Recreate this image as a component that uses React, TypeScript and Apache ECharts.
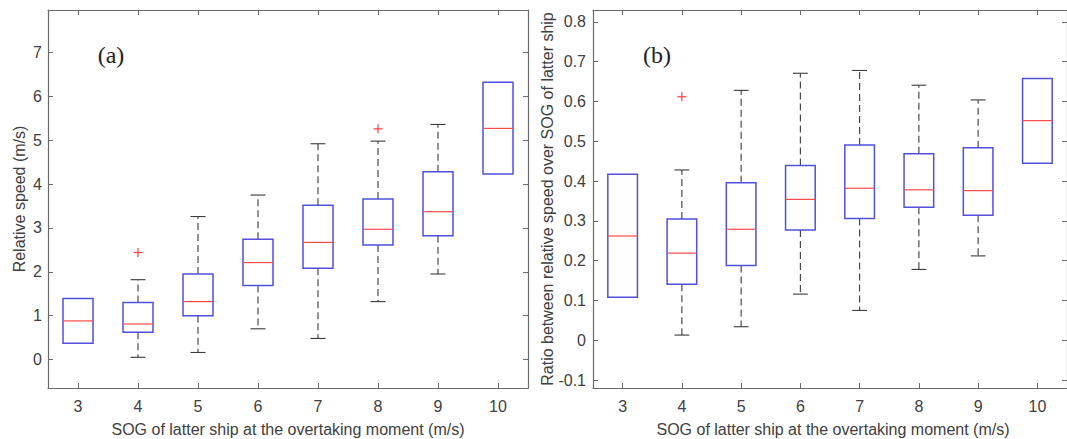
import React, { useEffect, useRef } from "react";
import * as echarts from "echarts";

// ---- data ----
const categories = [3, 4, 5, 6, 7, 8, 9, 10];

// (a) Relative speed (m/s)
const speedLow = [0.37, 0.05, 0.16, 0.70, 0.48, 1.32, 1.95, 4.23];
const speedQ1 = [0.37, 0.62, 1.00, 1.69, 2.08, 2.61, 2.82, 4.23];
const speedMedian = [0.88, 0.81, 1.32, 2.21, 2.67, 2.97, 3.37, 5.27];
const speedQ3 = [1.39, 1.30, 1.95, 2.74, 3.52, 3.66, 4.28, 6.32];
const speedHigh = [1.39, 1.82, 3.26, 3.75, 4.92, 4.98, 5.36, 6.32];
const speedOutliers = [[4, 2.44], [8, 5.26]];

// (b) Ratio between relative speed over SOG of latter ship
const ratioLow = [0.108, 0.013, 0.034, 0.116, 0.075, 0.178, 0.212, 0.445];
const ratioQ1 = [0.108, 0.141, 0.188, 0.277, 0.306, 0.334, 0.314, 0.445];
const ratioMedian = [0.262, 0.219, 0.279, 0.354, 0.382, 0.378, 0.376, 0.552];
const ratioQ3 = [0.417, 0.305, 0.396, 0.439, 0.491, 0.469, 0.484, 0.658];
const ratioHigh = [0.417, 0.428, 0.628, 0.671, 0.678, 0.641, 0.604, 0.658];
const ratioOutliers = [[4, 0.612]];

const speedTicks = [0, 1, 2, 3, 4, 5, 6, 7];
const ratioTicks = [-0.1, 0, 0.1, 0.2, 0.3, 0.4, 0.5, 0.6, 0.7, 0.8];

const xTitle = "SOG of latter ship at the overtaking moment (m/s)";
const yTitleA = "Relative speed (m/s)";
const yTitleB = "Ratio between relative speed over SOG of latter ship";

const FONT = "'Liberation Sans', Arial, Helvetica, sans-serif";
const FS = 16;
const TEXT = "#404040";
const FRAME = "#6a6a6a";
const BLUE = "#5050dc";
const RED = "#ff4a4a";
const WHISKER = "#3a3a3a";

function boxData(low: number[], q1: number[], med: number[], q3: number[], high: number[]) {
  return categories.map((c, i) => [c, low[i], q1[i], med[i], q3[i], high[i]]);
}

function renderBox(params: any, api: any) {
  const x = api.value(0);
  const low = api.value(1);
  const q1 = api.value(2);
  const med = api.value(3);
  const q3 = api.value(4);
  const high = api.value(5);
  const half = 0.25;
  const cap = 0.125;
  const tl = api.coord([x - half, q3]);
  const br = api.coord([x + half, q1]);
  const mL = api.coord([x - half, med]);
  const mR = api.coord([x + half, med]);
  const children: any[] = [];
  const dashStyle = { stroke: WHISKER, lineWidth: 1.1, lineDash: [7, 4] };
  const capStyle = { stroke: WHISKER, lineWidth: 1.1 };
  if (high > q3) {
    const a = api.coord([x, q3]);
    const b = api.coord([x, high]);
    const c1 = api.coord([x - cap, high]);
    const c2 = api.coord([x + cap, high]);
    children.push({ type: "line", shape: { x1: a[0], y1: a[1], x2: b[0], y2: b[1] }, style: dashStyle });
    children.push({ type: "line", shape: { x1: c1[0], y1: c1[1], x2: c2[0], y2: c2[1] }, style: capStyle });
  }
  if (low < q1) {
    const a = api.coord([x, q1]);
    const b = api.coord([x, low]);
    const c1 = api.coord([x - cap, low]);
    const c2 = api.coord([x + cap, low]);
    children.push({ type: "line", shape: { x1: a[0], y1: a[1], x2: b[0], y2: b[1] }, style: dashStyle });
    children.push({ type: "line", shape: { x1: c1[0], y1: c1[1], x2: c2[0], y2: c2[1] }, style: capStyle });
  }
  children.push({
    type: "rect",
    shape: { x: tl[0], y: tl[1], width: br[0] - tl[0], height: br[1] - tl[1] },
    style: { fill: "none", stroke: BLUE, lineWidth: 1.5 },
  });
  children.push({
    type: "line",
    shape: { x1: mL[0], y1: mL[1], x2: mR[0], y2: mR[1] },
    style: { stroke: RED, lineWidth: 1.2 },
  });
  return { type: "group", children };
}

function renderOutlier(params: any, api: any) {
  const p = api.coord([api.value(0), api.value(1)]);
  const s = 4.5;
  return {
    type: "group",
    children: [
      { type: "line", shape: { x1: p[0] - s, y1: p[1], x2: p[0] + s, y2: p[1] }, style: { stroke: RED, lineWidth: 1.3 } },
      { type: "line", shape: { x1: p[0], y1: p[1] - s, x2: p[0], y2: p[1] + s }, style: { stroke: RED, lineWidth: 1.3 } },
    ],
  };
}

function xAxes(gridIndex: number) {
  const common = {
    gridIndex,
    type: "value",
    min: 2.5,
    max: 10.5,
    splitLine: { show: false },
    axisLine: { show: true, onZero: false, lineStyle: { color: FRAME, width: 1.2 } },
    axisTick: { show: true, inside: true, length: 5, customValues: categories, lineStyle: { color: FRAME } },
  };
  return [
    {
      ...common,
      position: "bottom",
      axisLabel: { show: true, customValues: categories, margin: 10, color: TEXT, fontSize: FS, fontFamily: FONT },
    },
    { ...common, position: "top", axisLabel: { show: false } },
  ];
}

function yAxes(gridIndex: number, min: number, max: number, ticks: number[], margin: number) {
  const common = {
    gridIndex,
    type: "value",
    min,
    max,
    splitLine: { show: false },
    axisLine: { show: true, onZero: false, lineStyle: { color: FRAME, width: 1.2 } },
    axisTick: { show: true, inside: true, length: 5, customValues: ticks, lineStyle: { color: FRAME } },
  };
  return [
    {
      ...common,
      position: "left",
      axisLabel: {
        show: true,
        customValues: ticks,
        margin,
        color: TEXT,
        fontSize: FS,
        fontFamily: FONT,
        formatter: (v: number) => String(Math.round(v * 10) / 10),
      },
    },
    { ...common, position: "right", axisLabel: { show: false } },
  ];
}

export default function App() {
  const ref = useRef<HTMLDivElement>(null);
  useEffect(() => {
    if (!ref.current) return;
    const chart = echarts.init(ref.current, undefined, { renderer: "svg" });
    const titleStyle = (text: string) => ({
      text,
      fill: TEXT,
      font: `${FS}px ${FONT}`,
      align: "center",
      verticalAlign: "middle",
    });
    const option: any = {
      animation: false,
      backgroundColor: "#ffffff",
      grid: [
        { left: 48, top: 10, width: 480, height: 378 },
        { left: 593, top: 10, width: 481, height: 378 },
      ],
      xAxis: [...xAxes(0), ...xAxes(1)],
      yAxis: [
        ...yAxes(0, -0.65, 7.97, speedTicks, 6),
        ...yAxes(1, -0.12, 0.83, ratioTicks, 7),
      ],
      series: [
        {
          type: "custom",
          xAxisIndex: 0,
          yAxisIndex: 0,
          renderItem: renderBox,
          encode: { x: 0, y: [1, 2, 3, 4, 5] },
          data: boxData(speedLow, speedQ1, speedMedian, speedQ3, speedHigh),
          clip: false,
        },
        {
          type: "custom",
          xAxisIndex: 0,
          yAxisIndex: 0,
          renderItem: renderOutlier,
          encode: { x: 0, y: 1 },
          data: speedOutliers,
        },
        {
          type: "custom",
          xAxisIndex: 2,
          yAxisIndex: 2,
          renderItem: renderBox,
          encode: { x: 0, y: [1, 2, 3, 4, 5] },
          data: boxData(ratioLow, ratioQ1, ratioMedian, ratioQ3, ratioHigh),
          clip: false,
        },
        {
          type: "custom",
          xAxisIndex: 2,
          yAxisIndex: 2,
          renderItem: renderOutlier,
          encode: { x: 0, y: 1 },
          data: ratioOutliers,
        },
      ],
      graphic: [
        { type: "text", x: 288, y: 429, style: titleStyle(xTitle) },
        { type: "text", x: 833, y: 429, style: titleStyle(xTitle) },
        { type: "text", x: 19, y: 199, rotation: Math.PI / 2, style: titleStyle(yTitleA) },
        { type: "text", x: 547, y: 199, rotation: Math.PI / 2, style: titleStyle(yTitleB) },
        {
          type: "text",
          x: 111,
          y: 55,
          style: { text: "(a)", fill: "#222", font: `24px 'Liberation Serif', 'Times New Roman', serif`, align: "center", verticalAlign: "middle" },
        },
        {
          type: "text",
          x: 657,
          y: 55,
          style: { text: "(b)", fill: "#222", font: `24px 'Liberation Serif', 'Times New Roman', serif`, align: "center", verticalAlign: "middle" },
        },
      ],
    };
    chart.setOption(option);
    return () => chart.dispose();
  }, []);
  return (
    <div
      ref={ref}
      style={{ position: "fixed", left: 0, top: 0, width: 1067, height: 439, background: "#fff" }}
    />
  );
}
